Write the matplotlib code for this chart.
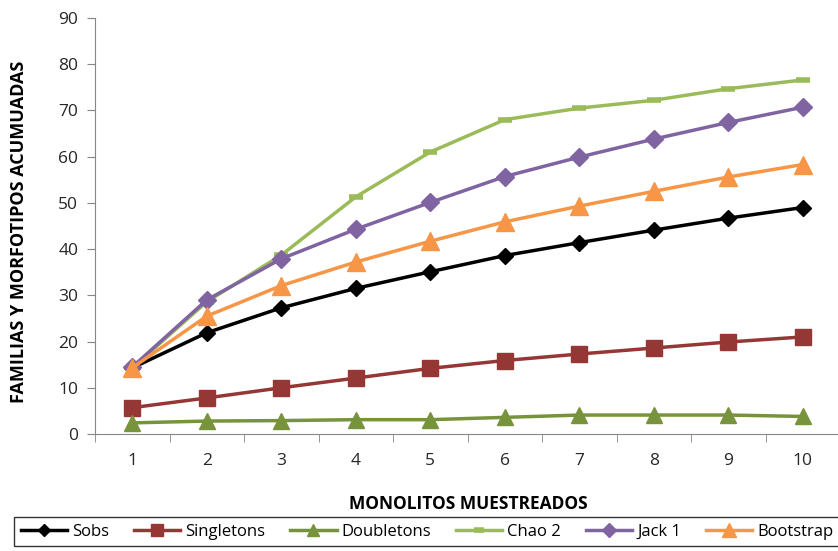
import matplotlib.pyplot as plt
import numpy as np

plt.rcParams['font.family'] = ['Open Sans', 'DejaVu Sans']

# Muestras (monolitos) y curvas de acumulacion
monolitos = np.arange(1, 11)
sobs = [14.3, 21.9, 27.3, 31.5, 35.1, 38.6, 41.4, 44.1, 46.7, 49.0]
singletons = [5.7, 7.8, 10.0, 12.1, 14.2, 15.9, 17.3, 18.6, 19.9, 21.0]
doubletons = [2.4, 2.8, 2.9, 3.1, 3.1, 3.6, 4.1, 4.1, 4.1, 3.8]
chao2 = [14.3, 28.6, 38.7, 51.3, 61.0, 68.0, 70.5, 72.2, 74.7, 76.6]
jack1 = [14.5, 29.0, 37.9, 44.3, 50.1, 55.7, 59.9, 63.8, 67.4, 70.7]
bootstrap = [14.3, 25.5, 32.1, 37.2, 41.7, 45.9, 49.3, 52.5, 55.6, 58.3]

fig = plt.figure(figsize=(8.38, 5.51), dpi=100)
ax = fig.add_axes([95 / 838, 1 - 434 / 551, 745 / 838, (434 - 18) / 551])

ax.plot(monolitos, sobs, color='black', marker='D', markersize=8, linewidth=2.5, label='Sobs')
ax.plot(monolitos, singletons, color='#953735', marker='s', markersize=11, linewidth=2.5, label='Singletons')
ax.plot(monolitos, doubletons, color='#77933C', marker='^', markersize=12, linewidth=2.5, label='Doubletons')
ax.plot(monolitos, chao2, color='#9BBB59', marker='_', markersize=10, markeredgewidth=4,
        linewidth=2.5, label='Chao 2')
ax.plot(monolitos, jack1, color='#8064A2', marker='D', markersize=9, linewidth=2.5, label='Jack 1')
ax.plot(monolitos, bootstrap, color='#F79646', marker='^', markersize=13, linewidth=2.5, label='Bootstrap')

ax.set_xlim(0.5, 10.5)
ax.set_ylim(0, 90)
ax.set_yticks(np.arange(0, 91, 10))
ax.set_xticks(monolitos)
ax.set_xticks(np.arange(0.5, 10.6, 1), minor=True)
ax.tick_params(axis='x', which='major', length=0, pad=14, labelsize=12.5, colors='#262626')
ax.tick_params(axis='x', which='minor', length=6, color='#868686', direction='out')
ax.tick_params(axis='y', length=6, color='#868686', labelsize=12.5, labelcolor='#262626', pad=6)

for side in ['top', 'right']:
    ax.spines[side].set_visible(False)
for side in ['left', 'bottom']:
    ax.spines[side].set_color('#868686')

ax.set_xlabel('MONOLITOS MUESTREADOS', fontsize=12.5, fontweight='bold')
ax.xaxis.set_label_coords((468 - 95) / 745, -(495 - 434) / 416)
ax.set_ylabel('FAMILIAS Y MORFOTIPOS ACUMUADAS', fontsize=13, fontweight='bold')
ax.yaxis.set_label_coords(-67 / 745, 0.485)

leg = fig.legend(loc='upper left', bbox_to_anchor=(14 / 838, -0.05, 826 / 838, 1 - 517 / 551 + 0.05),
                 mode='expand', ncol=6, fontsize=12, frameon=True, fancybox=False,
                 handlelength=2.8, handletextpad=0.3, borderaxespad=0, borderpad=0.4,
                 markerscale=0.75)
leg.get_frame().set_edgecolor('black')
leg.get_frame().set_linewidth(1)

fig.savefig('out.png', dpi=100)
plt.close(fig)
